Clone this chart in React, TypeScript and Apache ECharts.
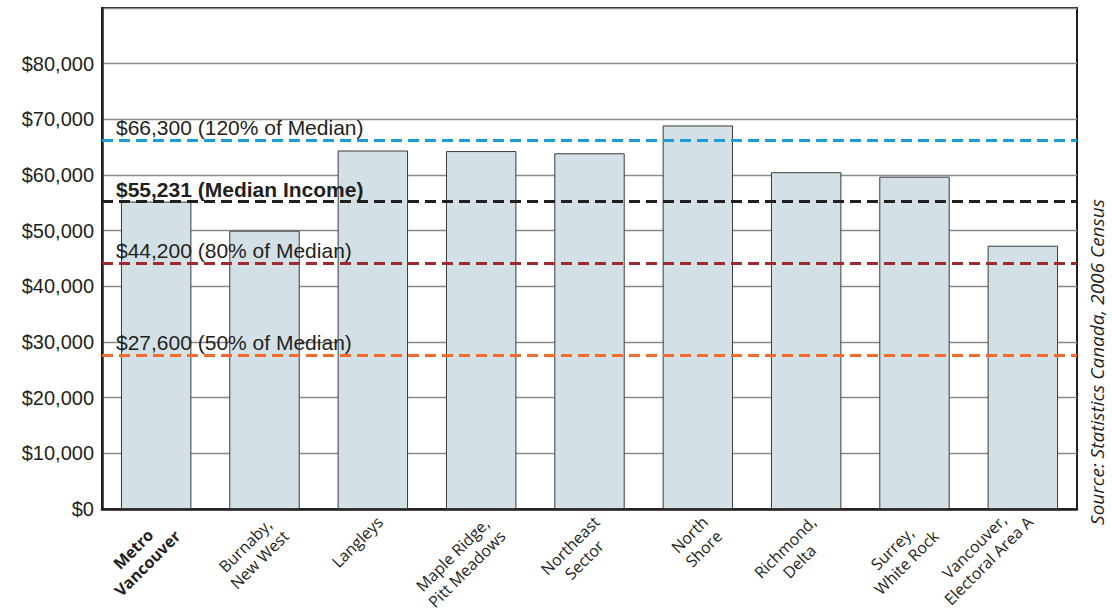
import React, { useEffect, useRef } from "react";
import * as echarts from "echarts";

const categories = [
  "Metro\nVancouver",
  "Burnaby,\nNew West",
  "Langleys",
  "Maple Ridge,\nPitt Meadows",
  "Northeast\nSector",
  "North\nShore",
  "Richmond,\nDelta",
  "Surrey,\nWhite Rock",
  "Vancouver,\nElectoral Area A",
];
const incomeValues = [55231, 50000, 64400, 64300, 63900, 68900, 60500, 59700, 47300];

const refValues = [66300, 55231, 44200, 27600];
const refLabels = [
  "$66,300 (120% of Median)",
  "$55,231 (Median Income)",
  "$44,200 (80% of Median)",
  "$27,600 (50% of Median)",
];
const refColors = ["#1b9bd7", "#231f20", "#9e2a2f", "#f26a2c"];
const refBold = [false, true, false, false];

const yTicksMax = 90000;
const yInterval = 10000;
const sourceText = "Source: Statistics Canada, 2006 Census";

export default function App() {
  const ref = useRef<HTMLDivElement>(null);
  useEffect(() => {
    if (!ref.current) return;
    const chart = echarts.init(ref.current, null, { renderer: "svg" });
    const rich: Record<string, any> = {};
    categories.forEach((_, i) => {
      rich["r" + i] = {
        align: "center",
        fontFamily: "'Open Sans', sans-serif",
        fontSize: 16,
        lineHeight: 20,
        color: "#231f20",
        fontWeight: i === 0 ? "bold" : "normal",
      };
    });
    const xData = categories.map((c, i) => ({
      value: c,
      textStyle: { verticalAlign: i === categories.length - 1 ? "middle" : "top" },
    }));
    chart.setOption({
      animation: false,
      backgroundColor: "#ffffff",
      grid: {
        left: 102,
        right: 35,
        top: 8,
        bottom: 102,
        containLabel: false,
        outerBoundsMode: "none",
        show: true,
        borderColor: "#231f20",
        borderWidth: 2,
        backgroundColor: "transparent",
      },
      xAxis: {
        type: "category",
        data: xData,
        axisLine: { show: true, lineStyle: { color: "#231f20", width: 2.5 } },
        axisTick: { show: false },
        axisLabel: {
          rotate: 45,
          margin: 3,
          interval: 0,
          align: "right",
          verticalAlign: "top",
          fontFamily: "'Open Sans', sans-serif",
          fontSize: 16,
          lineHeight: 20,
          color: "#231f20",
          formatter: (value: string, idx: number) =>
            value
              .split("\n")
              .map((l) => `{r${idx}|${l}}`)
              .join("\n"),
          rich,
        },
      },
      yAxis: {
        type: "value",
        min: 0,
        max: yTicksMax,
        interval: yInterval,
        axisLine: { show: true, lineStyle: { color: "#231f20", width: 2.5 } },
        axisTick: { show: false },
        splitLine: { show: true, lineStyle: { color: "#8a8a8a", width: 1.3 } },
        axisLabel: {
          margin: 8,
          fontFamily: "'Liberation Sans', Arial, sans-serif",
          fontSize: 20,
          color: "#231f20",
          formatter: (v: number) =>
            v >= yTicksMax ? "" : "$" + v.toLocaleString("en-US"),
        },
      },
      series: [
        {
          type: "bar",
          data: incomeValues,
          barWidth: "65%",
          itemStyle: {
            color: "#d3e1e6",
            borderColor: "#3a3a3a",
            borderWidth: 1,
          },
          markLine: {
            silent: true,
            symbol: ["none", "none"],
            z: 5,
            data: refValues.map((v, i) => ({
              yAxis: v,
              lineStyle: {
                color: refColors[i],
                width: 3,
                type: [11, 6],
              },
              label: {
                show: true,
                position: "insideStartTop",
                distance: [14, 2],
                formatter: refLabels[i],
                fontFamily: "'Liberation Sans', Arial, sans-serif",
                fontSize: 21,
                fontWeight: refBold[i] ? "bold" : "normal",
                color: "#231f20",
              },
            })),
          },
        },
      ],
      graphic: [
        {
          type: "text",
          x: 1097,
          y: 362,
          rotation: Math.PI / 2,
          style: {
            text: sourceText,
            fontFamily: "'Open Sans', sans-serif",
            fontStyle: "italic",
            fontSize: 19,
            fill: "#231f20",
            textAlign: "center",
            textVerticalAlign: "middle",
          },
        },
      ],
    });
    return () => chart.dispose();
  }, []);
  return <div ref={ref} style={{ width: 1112, height: 611, position: "absolute", left: 0, top: 0 }} />;
}
